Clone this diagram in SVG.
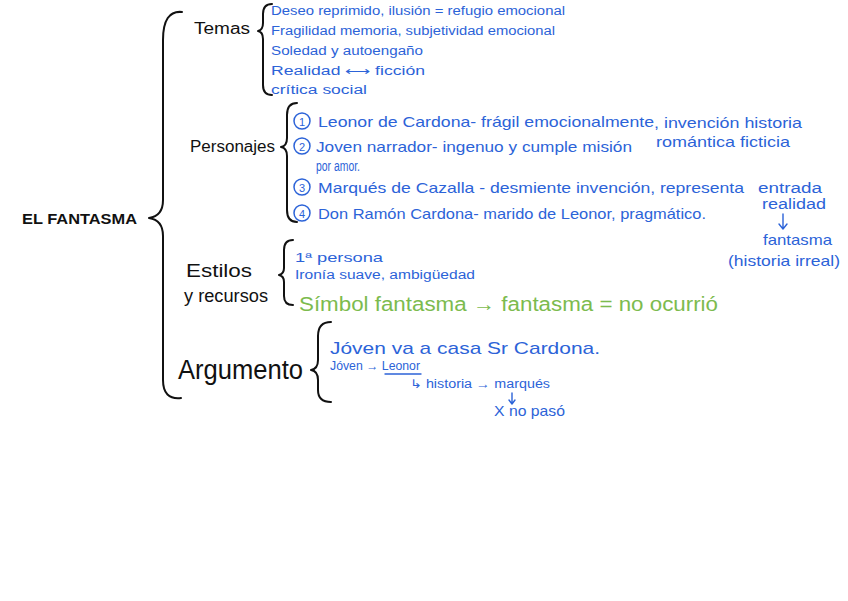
<svg xmlns="http://www.w3.org/2000/svg" width="848" height="601" viewBox="0 0 848 601">
<style>
.k{font-family:"Liberation Sans",Arial,sans-serif;fill:#111;}
.b{font-family:"Liberation Sans",Arial,sans-serif;fill:#2c63d8;}
.g{font-family:"Liberation Sans",Arial,sans-serif;fill:#7cbb4e;}
.br{fill:none;stroke:#111;stroke-width:2;stroke-linecap:round;stroke-linejoin:round;}
.bl{fill:none;stroke:#2c63d8;stroke-width:1.4;stroke-linecap:round;stroke-linejoin:round;}
.num{fill:none;stroke:#2c63d8;stroke-width:1.5;}
</style>
<rect width="848" height="601" fill="#fff"/>
<g id="connectors">
<path class="br" d="M182 12 Q163 10 163 40 L163 200 Q163 216 149 218 Q163 220 163 236 L163 380 Q163 400 181 398" stroke-width="2.6"/>
<path class="br" d="M272 4 Q263 4 263 14 L263 23 Q263 30 258 31 Q263 32 263 39 L263 85 Q263 95 272 95"/>
<path class="br" d="M297 103 Q287 103 287 115 L287 138 Q287 146 281 147 Q287 148 287 156 L287 210 Q287 222 297 222"/>
<path class="br" d="M293 240 Q284 240 284 250 L284 268 Q284 274 279 275 Q284 276 284 282 L284 296 Q284 305 293 305"/>
<path class="br" d="M331 322 Q318 322 318 336 L318 360 Q318 369 311 370 Q318 371 318 380 L318 390 Q318 402 331 402" stroke-width="2.6"/>
<path class="bl" d="M783 214 L783 228 M779 224 L783 229 L787 224"/>
<path class="bl" d="M512 393 L512 403 M509 400 L512 404 L515 400"/>
</g>
<g id="root"><text class="k" x="22" y="224" font-size="14" font-weight="bold" textLength="115" lengthAdjust="spacingAndGlyphs">EL FANTASMA</text></g>
<g id="temas">
<text class="k" x="194" y="34" font-size="16" textLength="56" lengthAdjust="spacingAndGlyphs">Temas</text>
<text class="b" x="271" y="15" font-size="12" textLength="294" lengthAdjust="spacingAndGlyphs">Deseo reprimido, ilusión = refugio emocional</text>
<text class="b" x="271" y="35" font-size="12" textLength="284" lengthAdjust="spacingAndGlyphs">Fragilidad memoria, subjetividad emocional</text>
<text class="b" x="271" y="55" font-size="12" textLength="152" lengthAdjust="spacingAndGlyphs">Soledad y autoengaño</text>
<text class="b" x="271" y="75" font-size="12" textLength="154" lengthAdjust="spacingAndGlyphs">Realidad ⟷ ficción</text>
<text class="b" x="271" y="94" font-size="12" textLength="96" lengthAdjust="spacingAndGlyphs">crítica social</text>
</g>
<g id="personajes">
<text class="k" x="190" y="152" font-size="16" textLength="85" lengthAdjust="spacingAndGlyphs">Personajes</text>
<circle class="num" cx="302" cy="121" r="8"/><text class="b" x="302" y="125.5" font-size="11" text-anchor="middle">1</text>
<circle class="num" cx="302" cy="146" r="8"/><text class="b" x="302" y="150.5" font-size="11" text-anchor="middle">2</text>
<circle class="num" cx="302" cy="187" r="8"/><text class="b" x="302" y="191.5" font-size="11" text-anchor="middle">3</text>
<circle class="num" cx="302" cy="213" r="8"/><text class="b" x="302" y="217.5" font-size="11" text-anchor="middle">4</text>
<text class="b" x="318" y="127" font-size="15" textLength="336" lengthAdjust="spacingAndGlyphs">Leonor de Cardona- frágil emocionalmente</text>
<text class="b" x="654" y="128" font-size="15" textLength="148" lengthAdjust="spacingAndGlyphs">, invención historia</text>
<text class="b" x="656" y="147" font-size="15" textLength="134" lengthAdjust="spacingAndGlyphs">romántica ficticia</text>
<text class="b" x="316" y="152" font-size="15" textLength="316" lengthAdjust="spacingAndGlyphs">Joven narrador- ingenuo y cumple misión</text>
<text class="b" x="316" y="171" font-size="14" textLength="44" lengthAdjust="spacingAndGlyphs">por amor.</text>
<text class="b" x="318" y="193" font-size="15" textLength="426" lengthAdjust="spacingAndGlyphs">Marqués de Cazalla - desmiente invención, representa</text>
<text class="b" x="758" y="193" font-size="14" textLength="64" lengthAdjust="spacingAndGlyphs">entrada</text>
<text class="b" x="762" y="209" font-size="14" textLength="64" lengthAdjust="spacingAndGlyphs">realidad</text>
<text class="b" x="763" y="245" font-size="15" textLength="69" lengthAdjust="spacingAndGlyphs">fantasma</text>
<text class="b" x="728" y="266" font-size="15" textLength="112" lengthAdjust="spacingAndGlyphs">(historia irreal)</text>
<text class="b" x="318" y="219" font-size="15" textLength="388" lengthAdjust="spacingAndGlyphs">Don Ramón Cardona- marido de Leonor, pragmático.</text>
</g>
<g id="estilos">
<text class="k" x="186" y="277" font-size="18" textLength="66" lengthAdjust="spacingAndGlyphs">Estilos</text>
<text class="k" x="184" y="302" font-size="18" textLength="84" lengthAdjust="spacingAndGlyphs">y recursos</text>
<text class="b" x="295" y="262" font-size="13" textLength="88" lengthAdjust="spacingAndGlyphs">1ª persona</text>
<text class="b" x="295" y="279" font-size="12" textLength="180" lengthAdjust="spacingAndGlyphs">Ironía suave, ambigüedad</text>
<text class="g" x="299" y="311" font-size="20" textLength="419" lengthAdjust="spacingAndGlyphs">Símbol fantasma → fantasma = no ocurrió</text>
</g>
<g id="argumento">
<text class="k" x="178" y="379" font-size="27" textLength="125" lengthAdjust="spacingAndGlyphs">Argumento</text>
<text class="b" x="330" y="354" font-size="17" textLength="270" lengthAdjust="spacingAndGlyphs">Jóven va a casa Sr Cardona.</text>
<text class="b" x="330" y="370" font-size="12" textLength="90" lengthAdjust="spacingAndGlyphs">Jóven → Leonor</text>
<line class="bl" x1="385" y1="374" x2="421" y2="374"/>
<text class="b" x="410" y="388" font-size="12" textLength="140" lengthAdjust="spacingAndGlyphs">↳ historia → marqués</text>
<text class="b" x="494" y="416" font-size="15" textLength="71" lengthAdjust="spacingAndGlyphs">X no pasó</text>
</g>
</svg>
